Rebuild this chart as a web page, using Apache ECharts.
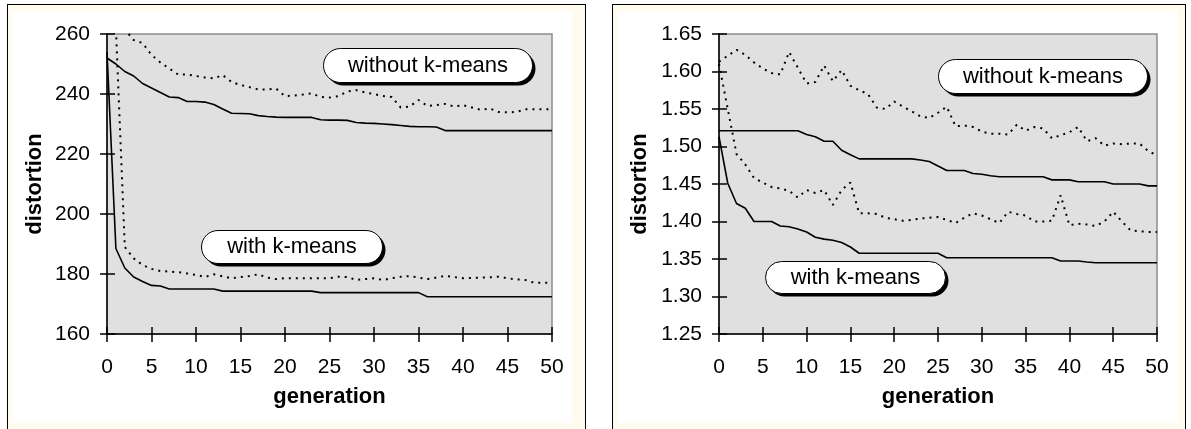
<!DOCTYPE html>
<html><head><meta charset="utf-8">
<script src="https://cdn.jsdelivr.net/npm/echarts@6/dist/echarts.min.js"></script>
<style>
html,body{margin:0;padding:0;background:#fff;}
.frame{position:absolute;border:1px solid #000;background:#FFFBEE;}
.inner{position:absolute;background:#fff;}
#chart{position:absolute;left:0;top:0;width:1191px;height:429px;}
</style></head>
<body>
<div class="frame" style="left:7px;top:4px;width:577px;height:430px"></div>
<div class="inner" style="left:12px;top:11px;width:560px;height:412px"></div>
<div class="frame" style="left:612px;top:4px;width:572px;height:430px"></div>
<div class="inner" style="left:617px;top:11px;width:561px;height:412px"></div>
<div id="chart"></div>
<script>
// generation (x axis)
const generation = [0,1,2,3,4,5,6,7,8,9,10,11,12,13,14,15,16,17,18,19,20,21,22,23,24,25,26,27,28,29,30,31,32,33,34,35,36,37,38,39,40,41,42,43,44,45,46,47,48,49,50];
const xTicks = [0,5,10,15,20,25,30,35,40,45,50];
const leftYTicks = [160,180,200,220,240,260];
const rightYTicks = [1.25,1.30,1.35,1.40,1.45,1.50,1.55,1.60,1.65];

// Left chart
const leftWithoutSolid = [252,250,247.5,246,243.5,242,240.5,239,238.8,237.5,237.5,237.3,236.5,235,233.6,233.5,233.4,232.8,232.5,232.3,232.2,232.2,232.2,232.2,231.4,231.3,231.3,231.2,230.5,230.3,230.2,230,229.8,229.5,229.2,229.1,229.1,229,227.8,227.8,227.8,227.8,227.8,227.8,227.8,227.8,227.8,227.8,227.8,227.8,227.8];
const leftWithoutDotted = [268,262,261.5,258,257,253,250.5,248.5,246.5,246.5,246,245.5,245.2,246.3,244,243,242.3,241.5,241.5,241.8,239.3,239.5,239.8,240.2,239,238.8,239.3,240.8,241.3,240.5,240,239.3,239,235.5,235.8,238,236,236.3,236.7,235.8,236.3,235.5,234.7,235.2,234,233.9,234,234.9,234.9,234.9,234.9];
const leftWithSolid = [254,188.5,182,179,177.5,176.2,176,175,175,175,175,175,175,174.3,174.3,174.3,174.3,174.3,174.3,174.3,174.3,174.3,174.3,174.3,173.8,173.8,173.8,173.8,173.8,173.8,173.8,173.8,173.8,173.8,173.8,173.8,172.4,172.4,172.4,172.4,172.4,172.4,172.4,172.4,172.4,172.4,172.4,172.4,172.4,172.4,172.4];
const leftWithDotted = [270,262,189,185.2,183,181.7,181,180.8,180.6,180.2,179.7,179,179.9,179.2,178.6,179,179.3,179.9,178.8,178.3,178.6,178.6,178.6,178.6,178.6,178.6,179.1,179,178,178.3,178.6,178,178.6,179.1,179.3,178.8,178.3,178.8,179.4,179,178.6,178.7,178.8,178.9,179.1,178.6,178.2,178,177.1,177.1,177.1];

// Right chart
const rightWithoutSolid = [1.521,1.521,1.521,1.521,1.521,1.521,1.521,1.521,1.521,1.521,1.516,1.513,1.507,1.507,1.495,1.489,1.4835,1.4835,1.4835,1.4835,1.4835,1.4835,1.4835,1.482,1.48,1.474,1.468,1.468,1.468,1.464,1.463,1.461,1.4597,1.4597,1.4597,1.4597,1.4597,1.4597,1.4555,1.4555,1.4555,1.453,1.453,1.453,1.453,1.45,1.45,1.45,1.45,1.4475,1.4475];
const rightWithoutDotted = [1.613,1.621,1.629,1.622,1.612,1.604,1.598,1.596,1.626,1.605,1.584,1.586,1.608,1.587,1.602,1.581,1.575,1.570,1.552,1.550,1.560,1.553,1.547,1.540,1.538,1.545,1.553,1.527,1.528,1.526,1.520,1.517,1.517,1.516,1.529,1.521,1.526,1.524,1.511,1.515,1.519,1.526,1.507,1.511,1.501,1.504,1.503,1.504,1.504,1.494,1.488];
const rightWithSolid = [1.513,1.451,1.424,1.4176,1.4,1.4,1.4,1.394,1.393,1.39,1.386,1.379,1.3765,1.375,1.372,1.366,1.3577,1.3577,1.3577,1.3577,1.3577,1.3577,1.3577,1.3577,1.3577,1.3577,1.3517,1.3517,1.3517,1.3517,1.3517,1.3517,1.3517,1.3517,1.3517,1.3517,1.3517,1.3517,1.3517,1.3473,1.3473,1.3473,1.346,1.345,1.345,1.345,1.345,1.345,1.345,1.345,1.345];
const rightWithDotted = [1.61,1.55,1.49,1.476,1.458,1.452,1.446,1.444,1.441,1.432,1.442,1.438,1.442,1.422,1.442,1.452,1.411,1.411,1.41,1.405,1.403,1.401,1.402,1.404,1.405,1.406,1.402,1.398,1.405,1.411,1.408,1.403,1.398,1.413,1.41,1.408,1.400,1.400,1.401,1.435,1.395,1.397,1.396,1.394,1.40,1.413,1.400,1.388,1.387,1.386,1.386];

const labelWithout = 'without k-means';
const labelWith = 'with k-means';
const xName = 'generation';
const yName = 'distortion';

const FONT = 'Liberation Sans, Arial, sans-serif';
const pair = arr => generation.map((g, i) => [g, arr[i]]);

function xAxes(gridIndex) {
  const base = {
    type: 'value', gridIndex, min: xTicks[0], max: xTicks[xTicks.length - 1],
    interval: xTicks[1] - xTicks[0], position: 'bottom', splitLine: {show: false}
  };
  return [
    Object.assign({}, base, {
      axisLine: {show: true, lineStyle: {color: '#000', width: 1.5}},
      axisTick: {show: true, inside: false, length: 8, lineStyle: {color: '#000', width: 1.5}},
      axisLabel: {margin: 23, color: '#000', fontSize: 21, fontFamily: FONT},
      name: xName, nameLocation: 'middle', nameGap: 52,
      nameTextStyle: {color: '#000', fontSize: 22, fontWeight: 'bold', fontFamily: FONT}
    }),
    Object.assign({}, base, {
      axisLine: {show: false},
      axisTick: {show: true, inside: true, length: 7, lineStyle: {color: '#000', width: 1.5}},
      axisLabel: {show: false}
    })
  ];
}
function yAxes(gridIndex, ticks, gap, fmt) {
  const base = {
    type: 'value', gridIndex, min: ticks[0], max: ticks[ticks.length - 1],
    interval: +(ticks[1] - ticks[0]).toFixed(4), position: 'left', splitLine: {show: false}
  };
  return [
    Object.assign({}, base, {
      axisLine: {show: true, lineStyle: {color: '#000', width: 1.5}},
      axisTick: {show: true, inside: false, length: 7, lineStyle: {color: '#000', width: 1.5}},
      axisLabel: {margin: 17, color: '#000', fontSize: 21, fontFamily: FONT, formatter: fmt},
      name: yName, nameLocation: 'middle', nameRotate: 90, nameGap: gap,
      nameTextStyle: {color: '#000', fontSize: 22, fontWeight: 'bold', fontFamily: FONT}
    }),
    Object.assign({}, base, {
      axisLine: {show: false},
      axisTick: {show: true, inside: true, length: 8, lineStyle: {color: '#000', width: 1.5}},
      axisLabel: {show: false}
    })
  ];
}
function line(data, xi, yi, dotted) {
  return {
    type: 'line', xAxisIndex: xi, yAxisIndex: yi, data: pair(data),
    symbol: 'none', smooth: false, clip: true, silent: true,
    lineStyle: dotted ? {color: '#000', width: 2, type: [2, 5], cap: 'butt'} : {color: '#000', width: 1.6}
  };
}
function callout(x, y, w, h, text) {
  return {
    type: 'group', left: x, top: y, z: 100,
    children: [
      {type: 'rect', shape: {x: 3, y: 3, width: w, height: h, r: h / 2},
       style: {fill: '#000', stroke: null}},
      {type: 'rect', shape: {x: 0, y: 0, width: w, height: h, r: h / 2},
       style: {fill: '#fff', stroke: '#000', lineWidth: 1}},
      {type: 'text', x: w / 2, y: h / 2,
       style: {text: text, fill: '#000', font: '22px ' + FONT, textAlign: 'center', textVerticalAlign: 'middle'}}
    ]
  };
}

const gridStyle = {show: true, backgroundColor: '#E0E0E0', borderColor: '#8C8C8C', borderWidth: 1.5, containLabel: false};
const chart = echarts.init(document.getElementById('chart'), null, {renderer: 'canvas'});
chart.setOption({
  animation: false,
  backgroundColor: 'transparent',
  grid: [
    Object.assign({left: 107, top: 34, width: 445, height: 300}, gridStyle),
    Object.assign({left: 719, top: 34, width: 438, height: 300}, gridStyle)
  ],
  xAxis: xAxes(0).concat(xAxes(1)),
  yAxis: yAxes(0, leftYTicks, 61, v => String(v)).concat(yAxes(1, rightYTicks, 68, v => v.toFixed(2))),
  series: [
    line(leftWithoutSolid, 0, 0, false),
    line(leftWithoutDotted, 0, 0, true),
    line(leftWithSolid, 0, 0, false),
    line(leftWithDotted, 0, 0, true),
    line(rightWithoutSolid, 2, 2, false),
    line(rightWithoutDotted, 2, 2, true),
    line(rightWithSolid, 2, 2, false),
    line(rightWithDotted, 2, 2, true)
  ],
  graphic: [
    callout(323, 48, 209, 34, labelWithout),
    callout(201, 230, 181, 33, labelWith),
    callout(938, 59, 209, 34, labelWithout),
    callout(765, 261, 180, 32, labelWith)
  ]
});
</script>
</body></html>
